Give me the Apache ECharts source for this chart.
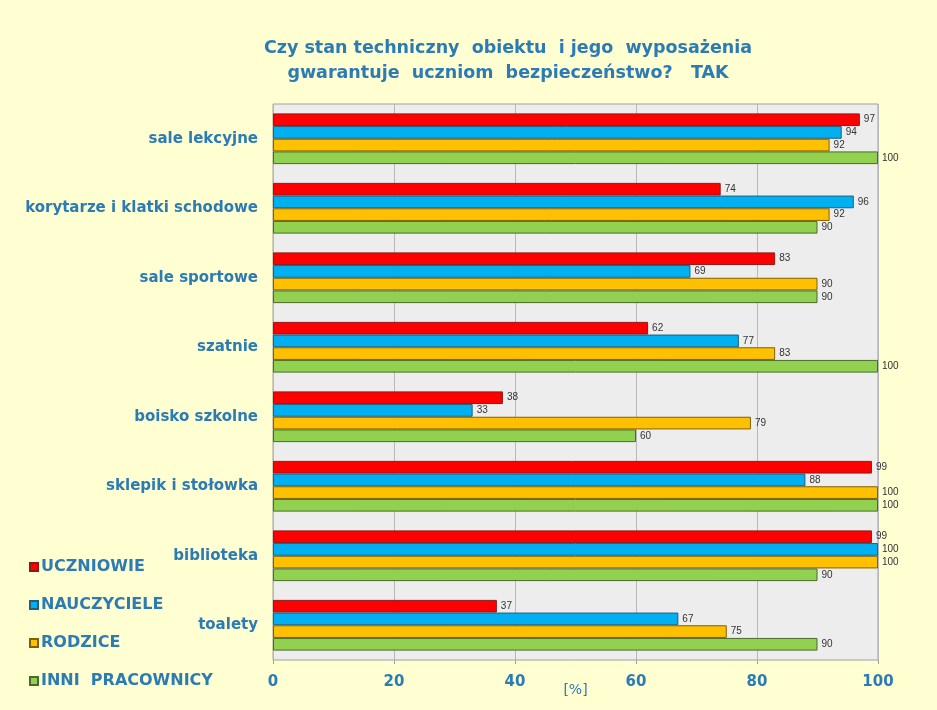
<!DOCTYPE html>
<html>
<head>
<meta charset="utf-8">
<script src="https://cdn.jsdelivr.net/npm/echarts@6/dist/echarts.min.js"></script>
<style>
  html, body { margin: 0; padding: 0; background: #FFFFD2; }
  #chart { width: 937px; height: 710px; }
</style>
</head>
<body>
<div id="chart"></div>
<script>
const categories = ['sale lekcyjne', 'korytarze i klatki schodowe', 'sale sportowe', 'szatnie', 'boisko szkolne', 'sklepik i stołowka', 'biblioteka', 'toalety']
const uczniowie = [97, 74, 83, 62, 38, 99, 99, 37]
const nauczyciele = [94, 96, 69, 77, 33, 88, 100, 67]
const rodzice = [92, 92, 90, 83, 79, 100, 100, 75]
const inni = [100, 90, 90, 100, 60, 100, 90, 90]
const xTicks = [0, 20, 40, 60, 80, 100]

const textBlue = '#2B7BB5'
const font = 'DejaVu Sans, Verdana, sans-serif'

function makeSeries(name, data, color, border) {
  return {
    name,
    type: 'bar',
    data,
    barGap: '0%',
    barCategoryGap: '27%',
    itemStyle: { color, borderColor: border, borderWidth: 1 },
    label: {
      show: true,
      position: 'right',
      distance: 4,
      fontSize: 10,
      fontFamily: 'Liberation Sans Narrow, Arial Narrow, sans-serif',
      color: '#333'
    }
  }
}

const chart = echarts.init(document.getElementById('chart'))
chart.setOption({
  backgroundColor: '#FFFFD2',
  animation: false,
  title: {
    text: 'Czy stan techniczny  obiektu  i jego  wyposażenia\ngwarantuje  uczniom  bezpieczeństwo?   TAK',
    left: 503,
    top: 31,
    textAlign: 'center',
    textStyle: {
      color: textBlue,
      fontSize: 17.5,
      fontWeight: 'bold',
      lineHeight: 25,
      fontFamily: font
    }
  },
  legend: {
    orient: 'vertical',
    left: 24,
    top: 554,
    itemGap: 22,
    itemWidth: 8,
    itemHeight: 8,
    icon: 'rect',
    textStyle: {
      color: textBlue,
      fontSize: 16,
      fontWeight: 'bold',
      fontFamily: font,
      padding: [0, 0, 0, -2]
    },
    data: ['UCZNIOWIE', 'NAUCZYCIELE', 'RODZICE', 'INNI  PRACOWNICY']
  },
  grid: {
    left: 273,
    right: 59,
    top: 104,
    bottom: 50,
    show: true,
    backgroundColor: '#EDEDED',
    borderColor: '#A0A0A0',
    borderWidth: 1
  },
  xAxis: {
    type: 'value',
    min: xTicks[0],
    max: xTicks[xTicks.length - 1],
    interval: 20,
    name: '[%]',
    nameLocation: 'middle',
    nameGap: 23,
    nameMoveOverlap: false,
    nameTextStyle: { color: textBlue, fontSize: 14, fontFamily: font },
    axisLine: { show: false },
    axisTick: { show: true, length: 4, lineStyle: { color: '#A0A0A0' } },
    axisLabel: {
      color: textBlue,
      fontSize: 15,
      fontWeight: 'bold',
      margin: 15,
      fontFamily: font
    },
    splitLine: { lineStyle: { color: '#B8B8B8', width: 1 } }
  },
  yAxis: {
    type: 'category',
    inverse: true,
    data: categories,
    axisLine: { show: false },
    axisTick: { show: false },
    axisLabel: {
      color: textBlue,
      fontSize: 15,
      fontWeight: 'bold',
      margin: 15,
      fontFamily: font
    }
  },
  series: [
    makeSeries('UCZNIOWIE', uczniowie, '#FF0000', '#8B1A1A'),
    makeSeries('NAUCZYCIELE', nauczyciele, '#00B0F0', '#1F5F7F'),
    makeSeries('RODZICE', rodzice, '#FFC000', '#806000'),
    makeSeries('INNI  PRACOWNICY', inni, '#92D050', '#4A6A2A')
  ]
})
</script>
</body>
</html>
